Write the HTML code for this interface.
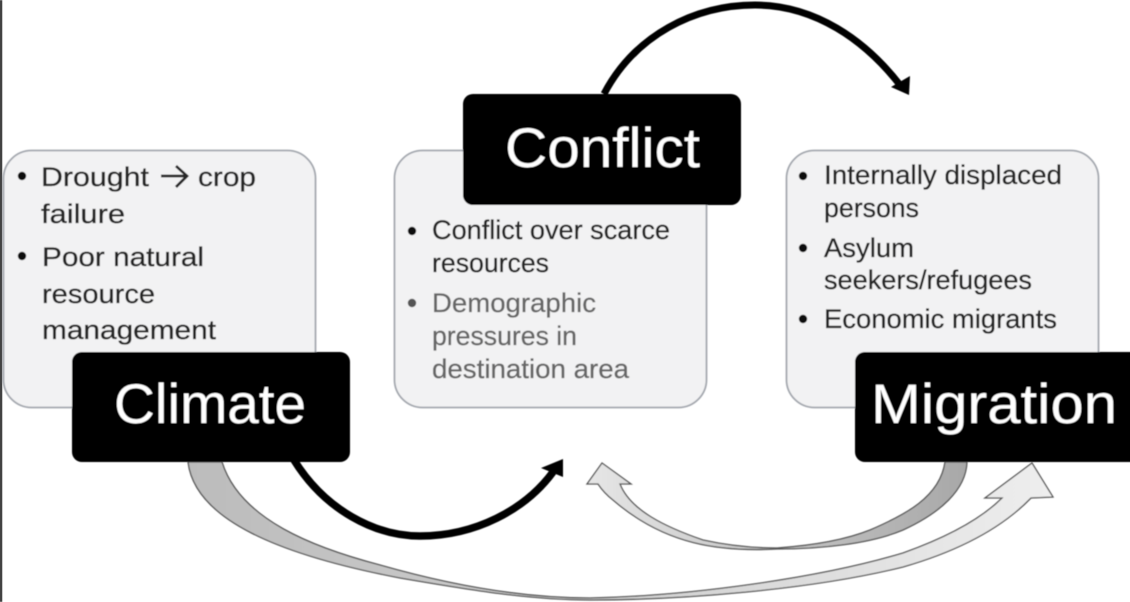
<!DOCTYPE html>
<html>
<head>
<meta charset="utf-8">
<style>
html,body{margin:0;padding:0;background:#fff;width:1130px;height:602px;overflow:hidden}
svg{display:block}
text{font-family:"Liberation Sans",sans-serif}
.t{font-size:27px;fill:#262626;stroke:#262626;stroke-width:.35px}
.g{font-size:27px;fill:#666;stroke:#666;stroke-width:.3px}
.b{font-size:56px;fill:#fff}
</style>
</head>
<body>
<svg width="1130" height="602" viewBox="0 0 1130 602" xmlns="http://www.w3.org/2000/svg">
<defs>
<filter id="s" x="-5%" y="-5%" width="110%" height="110%"><feGaussianBlur stdDeviation="0.55"/></filter>
<linearGradient id="g1" gradientUnits="userSpaceOnUse" x1="188" y1="0" x2="1053" y2="0"><stop offset="0" stop-color="#bcbcbc"/><stop offset="0.5" stop-color="#d0d0d0"/><stop offset="1" stop-color="#eeeeee"/></linearGradient>
<linearGradient id="g2" gradientUnits="userSpaceOnUse" x1="967" y1="0" x2="587" y2="0"><stop offset="0" stop-color="#a8a8a8"/><stop offset="0.5" stop-color="#c4c4c4"/><stop offset="1" stop-color="#e6e6e6"/></linearGradient>
</defs>
<g filter="url(#s)">
<rect x="0" y="0" width="2" height="602" fill="#111"/>

<rect x="3.5" y="150.5" width="312" height="257" rx="28" fill="#f2f2f3" stroke="#a4a8af" stroke-width="1.8"/>
<rect x="394.5" y="150.5" width="312" height="257" rx="28" fill="#f2f2f3" stroke="#a4a8af" stroke-width="1.8"/>
<rect x="786.5" y="150.5" width="312" height="257" rx="28" fill="#f2f2f3" stroke="#a4a8af" stroke-width="1.8"/>

<path d="M188,462 C195,520 280,555 400,578 C470,590 530,600 590,600 C680,600 810,590 903,567 C955,552 1000,530 1031,498 L1053,497 L1032,463 L985,498 L1002,498 C980,520 945,538 903,553 C820,578 690,596 590,598 C520,598 450,585 380,565 C315,548 240,520 222,462 Z" fill="url(#g1)" stroke="#555" stroke-width="1.3"/>

<path d="M967,462 C966,490 940,513 903,530 C870,544 820,549 777,549 C720,552 665,545 613,500 Q604,493 598,484 L587,484 L602,463 L631,484 L620,484 C630,510 665,527 703,540 C730,546 755,548 777,548 C820,545 850,538 870,530 C905,515 940,497 945,462 Z" fill="url(#g2)" stroke="#555" stroke-width="1.3"/>

<path d="M294,460 C325,510 375,536 420,536 C475,536 525,510 553,472" fill="none" stroke="#000" stroke-width="7.5"/>
<path d="M563,459 L541,468 L563,477 Z" fill="#000"/>

<path d="M604,94 C635,35 695,5 755,5 C815,5 865,40 900,85" fill="none" stroke="#000" stroke-width="7"/>
<path d="M909,95 L891,87 L910,76 Z" fill="#000"/>

<rect x="72" y="352" width="278" height="110" rx="10" fill="#000"/>
<rect x="463" y="94" width="278" height="111" rx="10" fill="#000"/>
<rect x="855" y="352" width="285" height="110" rx="10" fill="#000"/>

<text class="b" x="114" y="423" textLength="192" lengthAdjust="spacingAndGlyphs">Climate</text>
<text class="b" x="505" y="167" textLength="195" lengthAdjust="spacingAndGlyphs">Conflict</text>
<text class="b" x="871" y="423" textLength="246" lengthAdjust="spacingAndGlyphs">Migration</text>

<circle cx="22" cy="176" r="4.2" fill="#111"/>
<circle cx="22" cy="256" r="4.2" fill="#111"/>
<text class="t" x="41" y="186" textLength="108" lengthAdjust="spacingAndGlyphs">Drought</text>
<path d="M161,176 H186 M176,166 L187,176 L176,187" fill="none" stroke="#262626" stroke-width="2.8"/>
<text class="t" x="198" y="186" textLength="58" lengthAdjust="spacingAndGlyphs">crop</text>
<text class="t" x="41" y="223" textLength="84" lengthAdjust="spacingAndGlyphs">failure</text>
<text class="t" x="42" y="266" textLength="162" lengthAdjust="spacingAndGlyphs">Poor natural</text>
<text class="t" x="42" y="303" textLength="113" lengthAdjust="spacingAndGlyphs">resource</text>
<text class="t" x="42" y="339" textLength="174" lengthAdjust="spacingAndGlyphs">management</text>

<circle cx="412" cy="231" r="4.2" fill="#111"/>
<circle cx="412" cy="303" r="4.2" fill="#555"/>
<text class="t" x="432" y="239" textLength="238" lengthAdjust="spacingAndGlyphs">Conflict over scarce</text>
<text class="t" x="432" y="272" textLength="117" lengthAdjust="spacingAndGlyphs">resources</text>
<text class="g" x="432" y="312" textLength="164" lengthAdjust="spacingAndGlyphs">Demographic</text>
<text class="g" x="432" y="345" textLength="145" lengthAdjust="spacingAndGlyphs">pressures in</text>
<text class="g" x="432" y="378" textLength="197" lengthAdjust="spacingAndGlyphs">destination area</text>

<circle cx="803" cy="176" r="4.2" fill="#111"/>
<circle cx="803" cy="248" r="4.2" fill="#111"/>
<circle cx="803" cy="319" r="4.2" fill="#111"/>
<text class="t" x="824" y="184" textLength="238" lengthAdjust="spacingAndGlyphs">Internally displaced</text>
<text class="t" x="824" y="217" textLength="95" lengthAdjust="spacingAndGlyphs">persons</text>
<text class="t" x="824" y="257" textLength="90" lengthAdjust="spacingAndGlyphs">Asylum</text>
<text class="t" x="824" y="289" textLength="208" lengthAdjust="spacingAndGlyphs">seekers/refugees</text>
<text class="t" x="824" y="328" textLength="233" lengthAdjust="spacingAndGlyphs">Economic migrants</text>
</g>
</svg>
</body>
</html>
